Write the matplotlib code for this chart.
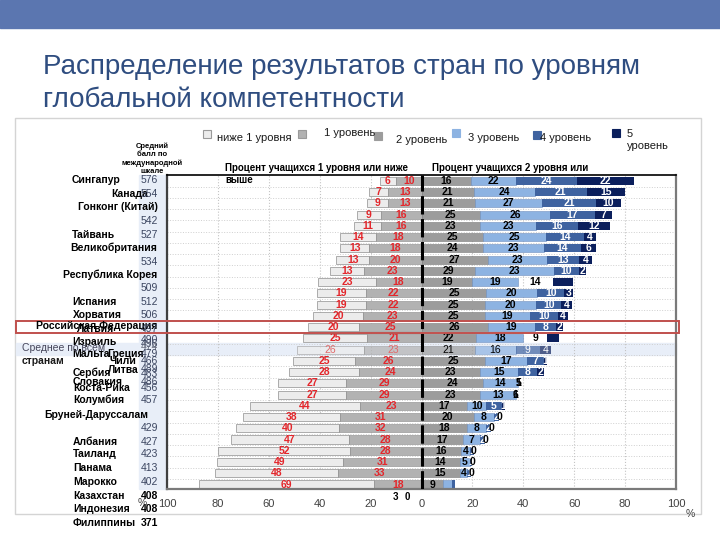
import numpy as np
import matplotlib
matplotlib.use("Agg")
from matplotlib import pyplot as plt
from matplotlib.patches import Rectangle

plt.rcParams['font.family'] = ['Liberation Sans', 'DejaVu Sans']

# --- bar lengths (% of students), top row = Singapore ---
below1 = [6.5, 7.5, 8.5, 9.5, 10.5, 14, 11.5, 13, 13.5, 22.5, 19, 19, 19.5, 20,
          25, 26.5, 24.5, 27.5, 27, 27, 43.5, 38, 40.5, 46.5, 52, 49.5, 48, 69]
level1 = [10, 13, 13, 16, 16, 18, 20.5, 20.5, 22.5, 18, 22, 22, 23, 24.5,
          21.5, 22.5, 26, 24.5, 29.5, 29.5, 24, 32, 32.5, 28.5, 28, 31, 33, 18.5]
level2 = [19.5, 20.5, 21, 23, 23, 24, 24, 26, 21, 20, 25.5, 25, 25, 26,
          21.5, 21, 25, 23, 24, 23, 18, 20.5, 18, 16.5, 15.5, 15, 15, 8.5]
level3 = [17.5, 24, 26.5, 27.5, 22, 25, 24, 23.5, 31, 18, 20, 20, 17.5, 18.5,
          18.5, 16, 16.5, 15, 14, 14, 7.5, 8, 7.5, 6.5, 3.5, 4, 3, 3.5]
level4 = [24, 20.5, 21, 17.5, 16.5, 15, 14.5, 12.5, 10, 13.5, 10.5, 10, 11, 8.5,
          9.5, 9.5, 6.5, 7.5, 0, 0, 6, 2, 2, 2, 1.5, 1, 1.5, 1]
level5 = [22.5, 15, 10, 7, 12.5, 4.5, 6, 5, 2.5, 8, 3.5, 4, 4, 2.5,
          4.5, 4.5, 1.5, 2.5, 0, 0, 1.5, 0, 0, 0, 0, 0, 0, 0]
level4_missing = [9, 14]      # rows where the level-4 piece is not drawn
average_row = 15

# --- printed numbers ---
lab_b1 = [6, 7, 9, 9, 11, 14, 13, 13, 13, 23, 19, 19, 20, 20, 25, 26, 25, 28,
          27, 27, 44, 38, 40, 47, 52, 49, 48, 69]
lab_l1 = [10, 13, 13, 16, 16, 18, 18, 20, 23, 18, 22, 22, 23, 25, 21, 23, 26, 24,
          29, 29, 23, 31, 32, 28, 28, 31, 33, 18]
lab_l2 = [16, 21, 21, 25, 23, 25, 24, 27, 29, 19, 25, 25, 25, 26, 22, 21, 25, 23,
          24, 23, 17, 20, 18, 17, 16, 14, 15, 9]
lab_l3 = [22, 24, 27, 26, 23, 25, 23, 23, 23, 19, 20, 20, 19, 19, 18, 16, 17, 15,
          14, 13, 10, 8, 8, 7, 4, 5, 4, None]
lab_l4 = [24, 21, 21, 17, 16, 14, 14, 13, 10, 14, 10, 10, 10, 8, 9, 9, 7, 8,
          5, 6, 5, 2, 2, 2, 1, 1, 1, None]
lab_l5 = [22, 15, 10, 7, 12, 4, 6, 4, 2, None, 3, 4, 4, 2, None, 4, 1, 2,
          1, 1, 1, 0, 0, 0, 0, 0, 0, None]
overflow_labels = ["3", "0"]

# --- left-hand text panel (names and mean scores) ---
names = ["Сингапур", "Канада", "Гонконг (Китай)", "Тайвань", "Великобритания",
         "Республика Корея", "Испания", "Хорватия", "Латвия",
         "Российская Федерация", "Израиль", "Мальта", "Греция", "Чили", "Литва",
         "Сербия", "Словакия", "Коста-Рика", "Колумбия", "Бруней-Даруссалам",
         "Албания", "Таиланд", "Панама", "Марокко", "Казахстан", "Индонезия",
         "Филиппины"]
scores = ["576", "554", "542", "527", "534", "509", "512", "506", "497", "490",
          "496", "474", "479", "466", "489", "463", "486", "456", "457", "429",
          "427", "423", "413", "402", "408", "408", "371"]

legend_labels = ["ниже 1 уровня", "1 уровень", "2 уровень", "3 уровень",
                 "4 уровень", "5\nуровень"]

# layout (pixel positions of the text panel)
name_pos = [(72, 180, 'left'), (148, 194, 'right'), (158, 207, 'right'),
            (72, 235, 'left'), (157, 248, 'right'), (157, 275, 'right'),
            (72, 302, 'left'), (73, 315, 'left'), (77, 329, 'left'),
            (157, 326, 'right'), (72, 342, 'left'), (72, 354, 'left'),
            (107, 354, 'left'), (110, 361, 'left'), (108, 370, 'left'),
            (73, 373, 'left'), (73, 382, 'left'), (73, 388, 'left'),
            (73, 400, 'left'), (148, 415, 'right'), (73, 442, 'left'),
            (73, 454, 'left'), (73, 468, 'left'), (73, 482, 'left'),
            (73, 496, 'left'), (73, 509, 'left'), (73, 523, 'left')]
score_y = [180, 194, 221, 235, 262, 288, 302, 315, 329, 340, 344, 347, 354, 361,
           369, 374, 382, 388, 400, 428, 442, 454, 468, 482, 496, 509, 523]
legend_pos = [(207, 134, 217, 138), (302, 134, 324, 133), (378, 136, 396, 140),
              (456, 133, 468, 138), (537, 135, 540, 138), (616, 133, 627, 140)]

c_b1, c_l1, c_l2 = '#ececec', '#b2b2b2', '#9c9c9c'
c_l3, c_l4, c_l5 = '#8db3e2', '#3f63a0', '#0b1f5c'
seg_colors = [c_b1, c_l1, c_l2, c_l3, c_l4, c_l5]
red = '#e3262b'

fig = plt.figure(figsize=(7.2, 5.4), dpi=100)

bg = fig.add_axes([0, 0, 1, 1], zorder=0)
bg.set_xlim(0, 720)
bg.set_ylim(540, 0)
bg.axis('off')
bg.add_patch(Rectangle((0, 0), 720, 28, color='#5b76b0'))
bg.add_patch(Rectangle((15, 118), 686, 396, fill=False, edgecolor='#d4d4d4', lw=1))
bg.add_patch(Rectangle((139, 175), 28, 314, color='#e8eef8'))
bg.add_patch(Rectangle((16, 343), 660, 12, color='#e8eef8'))

ax = fig.add_axes([167 / 720, 1 - 489 / 540, 509 / 720, 314 / 540], zorder=1)
ax.patch.set_alpha(0)

n = len(below1)
y = np.arange(n)
h = 0.72
l1 = np.array(level1)
b1 = np.array(below1)
l2, l3, l4, l5 = (np.array(v) for v in (level2, level3, level4, level5))

bars = []
bars.append(ax.barh(y, -b1, left=-l1, height=h, color=c_b1, edgecolor='#a0a0a0', lw=0.6))
bars.append(ax.barh(y, -l1, height=h, color=c_l1, edgecolor='#8a8a8a', lw=0.4))
bars.append(ax.barh(y, l2, height=h, color=c_l2, edgecolor='#7a7a7a', lw=0.4))
bars.append(ax.barh(y, l3, left=l2, height=h, color=c_l3, edgecolor='#6f8fbf', lw=0.4))
bars.append(ax.barh(y, l4, left=l2 + l3, height=h, color=c_l4, lw=0))
bars.append(ax.barh(y, l5, left=l2 + l3 + l4, height=h, color=c_l5, lw=0))
for i in level4_missing:
    bars[4].patches[i].set_visible(False)
for bc in bars:
    bc.patches[average_row].set_alpha(0.7)

# numbers in the bars
lefts = [-(l1 + b1 / 2), -l1 / 2, l2 / 2, l2 + l3 / 2, l2 + l3 + l4 / 2,
         l2 + l3 + l4 + l5 / 2]
all_labels = [lab_b1, lab_l1, lab_l2, lab_l3, lab_l4, lab_l5]
widths = [b1, l1, l2, l3, l4, l5]
for k in range(6):
    for i in range(n):
        v = all_labels[k][i]
        if v is None:
            continue
        if k < 2:
            col = red if i != average_row else '#e06a6a'
        elif k < 4:
            col = 'black'
        else:
            col = 'white' if widths[k][i] > 0 and not (k == 4 and i in level4_missing) else 'black'
        ax.text(lefts[k][i], i, str(v), ha='center', va='center', fontsize=7.5,
                color=col, fontweight='bold' if i != average_row else 'normal')

ax.axvline(0, color='black', lw=2.2, ls=(0, (6, 1.5)), zorder=3)
ax.set_xlim(-100, 100)
ax.set_ylim(n - 0.6, -0.53)
ticks = np.arange(-100, 101, 20)
ax.set_xticks(ticks)
ax.set_xticklabels([str(abs(t)) for t in ticks])
ax.set_yticks([])
ax.set_yticks(y[:-1] + 0.5, minor=True)
ax.tick_params(axis='both', which='both', length=0)
ax.tick_params(axis='x', labelsize=8, labelcolor='#404040', pad=7)
ax.grid(axis='x', ls=':', color='#c4c4c4', lw=0.8)
ax.grid(axis='y', which='minor', ls=':', color='#cfcfcf', lw=0.7)
ax.set_axisbelow(True)
ax.spines['left'].set_color('#404040')
ax.spines['left'].set_linewidth(1.6)
ax.spines['top'].set_color('black')
ax.spines['top'].set_linewidth(1.2)
for s in ('right', 'bottom'):
    ax.spines[s].set_color('#7a7a7a')
    ax.spines[s].set_linewidth(1.6)

fg = fig.add_axes([0, 0, 1, 1], zorder=2)
fg.set_xlim(0, 720)
fg.set_ylim(540, 0)
fg.axis('off')

fg.text(43, 67, "Распределение результатов стран по уровням", fontsize=20,
        color='#2f4d80', va='center')
fg.text(43, 100, "глобальной компетентности", fontsize=20,
        color='#2f4d80', va='center')

fg.add_patch(Rectangle((16, 321), 663, 12, fill=False, edgecolor='#c0504d', lw=1.4))

for (sx, sy, tx, ty), lab, col in zip(legend_pos, legend_labels, seg_colors):
    fg.add_patch(Rectangle((sx - 4, sy - 4), 8, 8, facecolor=col,
                           edgecolor='#9a9a9a' if col in (c_b1, c_l1) else col, lw=0.8))
    fg.text(tx, ty, lab, fontsize=8, va='center', ha='left', color='#1a1a1a',
            linespacing=1.3)

fg.text(152, 159, "Средний\nбалл по\nмеждународной\nшкале", fontsize=5.5,
        fontweight='bold', ha='center', va='center', linespacing=1.25)
fg.text(225, 168, "Процент учащихся 1 уровня или ниже", fontsize=7,
        fontweight='bold', va='center')
fg.text(225, 180, "выше", fontsize=7, fontweight='bold', va='center')
fg.text(432, 168, "Процент учащихся 2 уровня или", fontsize=7,
        fontweight='bold', va='center')

for name, (nx, ny, ha) in zip(names, name_pos):
    fg.text(nx, ny, name, fontsize=7.5, fontweight='bold', ha=ha, va='center')
for sc, sy in zip(scores, score_y):
    bold = sy > 490
    col = 'black' if bold else ('#6a6f80' if sc == "474" else '#3b4560')
    fg.text(158, sy, sc, fontsize=7.5, ha='right', va='center', color=col,
            fontweight='bold' if bold else 'normal')
fg.text(22, 348, "Среднее по всем", fontsize=7.5, color='#45455a', va='center')
fg.text(22, 361, "странам", fontsize=7.5, fontweight='bold', color='#1a1a1a', va='center')

for lab, ox in zip(overflow_labels, (395, 407)):
    fg.text(ox, 497, lab, fontsize=7, fontweight='bold', ha='center', va='center')
fg.text(142, 503, "%", fontsize=7.5, color='#404040', ha='center', va='center')
fg.text(690, 514, "%", fontsize=7.5, color='#404040', ha='center', va='center')

fig.savefig("out.png", dpi=100)
